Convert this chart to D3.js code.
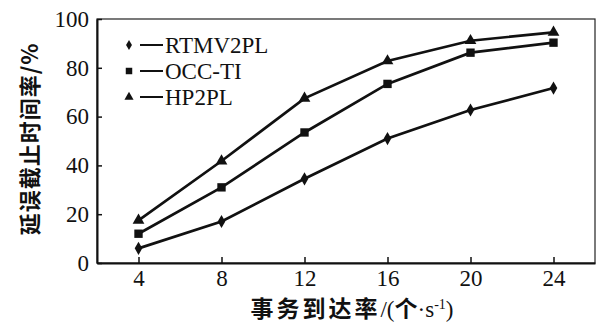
<!DOCTYPE html>
<html>
<head>
<meta charset="utf-8">
<script src="https://cdn.jsdelivr.net/npm/d3@7"></script>
<style>
body { margin: 0; background: #fff; }
svg { display: block; }
.tick text { font-family: 'Liberation Serif', 'DejaVu Serif', serif; }
</style>
</head>
<body>
<svg width="600" height="327"></svg>
<script>
// data
var rates = [4, 8, 12, 16, 20, 24];
var rtmv2pl = [6, 17, 34.5, 51, 62.7, 71.7];
var occti = [12, 31, 53.5, 73.4, 86.2, 90.3];
var hp2pl = [17.5, 41.8, 67.5, 82.8, 91.1, 94.5];
var xTicks = [4, 8, 12, 16, 20, 24];
var yTicks = [0, 20, 40, 60, 80, 100];

var series = [
    { name: "RTMV2PL", values: rtmv2pl, symbol: d3.symbolDiamond, size: 50 },
    { name: "OCC-TI", values: occti, symbol: d3.symbolSquare, size: 70 },
    { name: "HP2PL", values: hp2pl, symbol: d3.symbolTriangle, size: 60 }
];

var svg = d3.select("svg");
var mLeft = 97, mRight = 595, mTop = 19, mBottom = 263;
var serif = "'Liberation Serif', 'DejaVu Serif', serif";
var cjk = "'Noto Sans CJK SC', sans-serif";

var x = d3.scaleLinear().domain([2, 26]).range([mLeft, mRight]);
var y = d3.scaleLinear().domain([0, 100]).range([mBottom, mTop]);

// frame
svg.append("rect")
    .attr("x", mLeft).attr("y", mTop)
    .attr("width", mRight - mLeft).attr("height", mBottom - mTop)
    .attr("fill", "none").attr("stroke", "#222").attr("stroke-width", 1.2);

// axes, ticks pointing inward
var xAxis = svg.append("g")
    .attr("transform", "translate(0," + mBottom + ")")
    .call(d3.axisBottom(x).tickValues(xTicks).tickSizeInner(-6).tickSizeOuter(0).tickPadding(7));
var yAxis = svg.append("g")
    .attr("transform", "translate(" + mLeft + ",0)")
    .call(d3.axisLeft(y).tickValues(yTicks).tickSizeInner(-5).tickSizeOuter(0).tickPadding(8));

[xAxis, yAxis].forEach(function(g) {
    g.attr("font-family", serif).attr("font-size", 23);
    g.select(".domain").attr("stroke", "#111").attr("stroke-width", 2);
    g.selectAll(".tick line").attr("stroke", "#111").attr("stroke-width", 1.5);
    g.selectAll(".tick text")
	.attr("fill", "#111")
	.style("font-family", serif)
	.style("font-size", "23px");
});

// lines and markers
var line = d3.line()
    .x(function(d, i) { return x(rates[i]); })
    .y(function(d) { return y(d); });

series.forEach(function(s) {
    svg.append("path")
	.datum(s.values)
	.attr("d", line)
	.attr("fill", "none")
	.attr("stroke", "#111")
	.attr("stroke-width", 2.7);
    svg.selectAll(null)
	.data(s.values)
	.enter().append("path")
	.attr("d", d3.symbol().type(s.symbol).size(s.size))
	.attr("transform", function(d, i) {
	    return "translate(" + x(rates[i]) + "," + y(d) + ")";
	})
	.attr("fill", "#111");
});

// legend
var legend = svg.append("g");
series.forEach(function(s, i) {
    var ly = 45 + i * 26;
    legend.append("path")
	.attr("d", d3.symbol().type(s.symbol).size(s.size * 0.6))
	.attr("transform", "translate(129," + ly + ")")
	.attr("fill", "#111");
    legend.append("line")
	.attr("x1", 140).attr("x2", 163)
	.attr("y1", ly).attr("y2", ly)
	.attr("stroke", "#111").attr("stroke-width", 2);
    legend.append("text")
	.attr("x", 165).attr("y", ly)
	.attr("dy", "0.36em")
	.attr("fill", "#111")
	.style("font-family", serif)
	.style("font-size", "23px")
	.text(s.name);
});

// axis titles
svg.append("text")
    .attr("transform", "translate(30,139) rotate(-90)")
    .attr("text-anchor", "middle")
    .attr("dy", "0.36em")
    .attr("fill", "#111")
    .style("font-family", cjk)
    .style("font-weight", "bold")
    .style("font-size", "22px")
    .style("letter-spacing", "1px")
    .text("延误截止时间率/%");

var xt = svg.append("text")
    .attr("x", 352).attr("y", 309)
    .attr("text-anchor", "middle")
    .attr("dy", "0.36em")
    .attr("fill", "#111")
    .style("font-size", "23px");
xt.append("tspan").style("font-family", cjk).style("font-weight", "bold").style("letter-spacing", "3px").text("事务到达率");
xt.append("tspan").style("font-family", serif).text("/(");
xt.append("tspan").style("font-family", cjk).style("font-weight", "bold").text("个");
xt.append("tspan").style("font-family", serif).text("·s");
xt.append("tspan").style("font-family", serif).style("font-size", "14px").attr("dy", "-0.6em").text("-1");
xt.append("tspan").style("font-family", serif).attr("dy", "0.35em").text(")");
</script>
</body>
</html>
